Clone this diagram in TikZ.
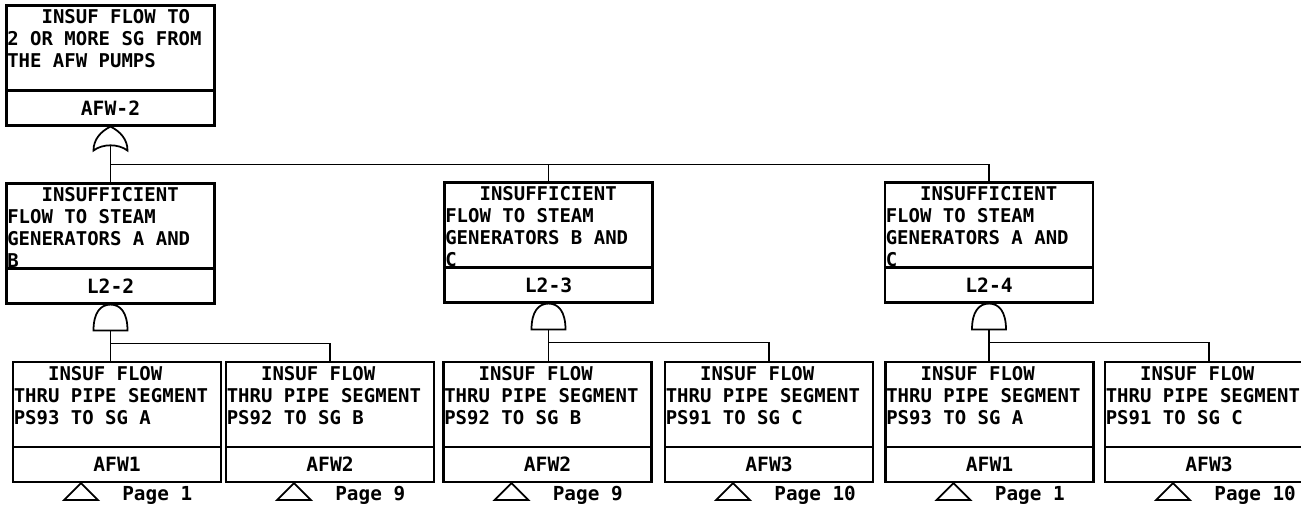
\documentclass[tikz,border=0pt]{standalone}
\usepackage{fontspec}
\newfontfamily\plotfont{DejaVu Sans Mono}
\usetikzlibrary{positioning}

\begin{document}
\begin{tikzpicture}[x=0.2mm, y=-0.2mm,
  evt/.style={rectangle, draw, line width=1.2pt, minimum width=41.6mm,
              minimum height=24mm, inner sep=0pt},
  evid/.style={rectangle, draw, line width=1.2pt, minimum width=41.6mm,
               minimum height=7mm, anchor=south, inner sep=0pt,
               font=\plotfont\bfseries\fontsize{11.2}{13}\selectfont},
  evtxt/.style={anchor=north west, inner sep=0pt, align=left,
                xshift=0.3mm, yshift=-1mm,
                font=\plotfont\bfseries\fontsize{10.8}{12.5}\selectfont},
  pg/.style={anchor=west, inner sep=0pt,
             font=\plotfont\bfseries\fontsize{11}{13}\selectfont},
  conn/.style={line width=1pt},
  xfer/.style={line width=1pt},
  pics/orgate/.style={code={
    \draw[line width=1pt] (0,0) .. controls (10,5) and (17,13) .. (17,24)
      .. controls (8,17) and (-8,17) .. (-17,24)
      .. controls (-17,13) and (-10,5) .. (0,0) -- cycle;
    \coordinate (-in) at (0,18.5);
  }},
  pics/andgate/.style={code={
    \draw[line width=1pt] (-17,26) -- (17,26) .. controls (17,8) and (10,0) .. (0,0)
      .. controls (-10,0) and (-17,8) .. (-17,26) -- cycle;
    \coordinate (-in) at (0,26);
  }}
]
\useasboundingbox (0,0) rectangle (1301,504);

% Top event
\node[evt] (top) at (110.5,65.5) {};
\node[evid] (topid) at (top.south) {AFW-2};
\node[evtxt] (toptxt) at (top.north west) {\hphantom{XXX}INSUF FLOW TO\\2 OR MORE SG FROM\\THE AFW PUMPS};
\pic (g0) at (top.south) {orgate};

% Second level
\node[evt] (l22) at (110.5,243.5) {};
\node[evid] (l22id) at (l22.south) {L2-2};
\node[evtxt] (l22txt) at (l22.north west) {\hphantom{XXX}INSUFFICIENT\\FLOW TO STEAM\\GENERATORS A AND\\B};
\pic (g1) at (l22.south) {andgate};

\node[evt] (l23) at (548.5,242.5) {};
\node[evid] (l23id) at (l23.south) {L2-3};
\node[evtxt] (l23txt) at (l23.north west) {\hphantom{XXX}INSUFFICIENT\\FLOW TO STEAM\\GENERATORS B AND\\C};
\pic (g2) at (l23.south) {andgate};

\node[evt] (l24) at (989,242.5) {};
\node[evid] (l24id) at (l24.south) {L2-4};
\node[evtxt] (l24txt) at (l24.north west) {\hphantom{XXX}INSUFFICIENT\\FLOW TO STEAM\\GENERATORS A AND\\C};
\pic (g3) at (l24.south) {andgate};

% Basic events
\node[evt] (e1) at (117,422) {};
\node[evid] (e1id) at (e1.south) {AFW1};
\node[evtxt] (e1txt) at (e1.north west) {\hphantom{XXX}INSUF FLOW\\THRU PIPE SEGMENT\\PS93 TO SG A};

\node[evt] (e2) at (330,422) {};
\node[evid] (e2id) at (e2.south) {AFW2};
\node[evtxt] (e2txt) at (e2.north west) {\hphantom{XXX}INSUF FLOW\\THRU PIPE SEGMENT\\PS92 TO SG B};

\node[evt] (e3) at (547.5,422) {};
\node[evid] (e3id) at (e3.south) {AFW2};
\node[evtxt] (e3txt) at (e3.north west) {\hphantom{XXX}INSUF FLOW\\THRU PIPE SEGMENT\\PS92 TO SG B};

\node[evt] (e4) at (769,422) {};
\node[evid] (e4id) at (e4.south) {AFW3};
\node[evtxt] (e4txt) at (e4.north west) {\hphantom{XXX}INSUF FLOW\\THRU PIPE SEGMENT\\PS91 TO SG C};

\node[evt] (e5) at (989.5,422) {};
\node[evid] (e5id) at (e5.south) {AFW1};
\node[evtxt] (e5txt) at (e5.north west) {\hphantom{XXX}INSUF FLOW\\THRU PIPE SEGMENT\\PS93 TO SG A};

\node[evt] (e6) at (1209,422) {};
\node[evid] (e6id) at (e6.south) {AFW3};
\node[evtxt] (e6txt) at (e6.north west) {\hphantom{XXX}INSUF FLOW\\THRU PIPE SEGMENT\\PS91 TO SG C};

% Gate connections
\draw[conn] (g0-in) -- ++(0,19.5) coordinate (bus0) -| (l24.north);
\draw[conn] (bus0) -| (l23.north);
\draw[conn] (bus0) -- (l22.north);

\draw[conn] (g1-in) -- ++(0,13) coordinate (bus1) -| (e2.north);
\draw[conn] (bus1) -- (bus1 |- e1.north);
\draw[conn] (g2-in) -- ++(0,13) coordinate (bus2) -| (e4.north);
\draw[conn] (bus2) -- (bus2 |- e3.north);
\draw[conn] (g3-in) -- ++(0,13) coordinate (bus3) -| (e6.north);
\draw[conn] (bus3) -- (bus3 |- e5.north);

% Transfers
\draw[xfer] ([xshift=-7.2mm]e1.south) -- ++(17,17) -- ++(-34,0) -- cycle;
\draw[xfer] ([xshift=-7.2mm]e2.south) -- ++(17,17) -- ++(-34,0) -- cycle;
\draw[xfer] ([xshift=-7.2mm]e3.south) -- ++(17,17) -- ++(-34,0) -- cycle;
\draw[xfer] ([xshift=-7.2mm]e4.south) -- ++(17,17) -- ++(-34,0) -- cycle;
\draw[xfer] ([xshift=-7.2mm]e5.south) -- ++(17,17) -- ++(-34,0) -- cycle;
\draw[xfer] ([xshift=-7.2mm]e6.south) -- ++(17,17) -- ++(-34,0) -- cycle;
\node[pg, right=1mm of e1.south, yshift=-2.4mm] (e1pg) {Page 1};
\node[pg, right=1mm of e2.south, yshift=-2.4mm] (e2pg) {Page 9};
\node[pg, right=1mm of e3.south, yshift=-2.4mm] (e3pg) {Page 9};
\node[pg, right=1mm of e4.south, yshift=-2.4mm] (e4pg) {Page 10};
\node[pg, right=1mm of e5.south, yshift=-2.4mm] (e5pg) {Page 1};
\node[pg, right=1mm of e6.south, yshift=-2.4mm] (e6pg) {Page 10};
\end{tikzpicture}
\end{document}
